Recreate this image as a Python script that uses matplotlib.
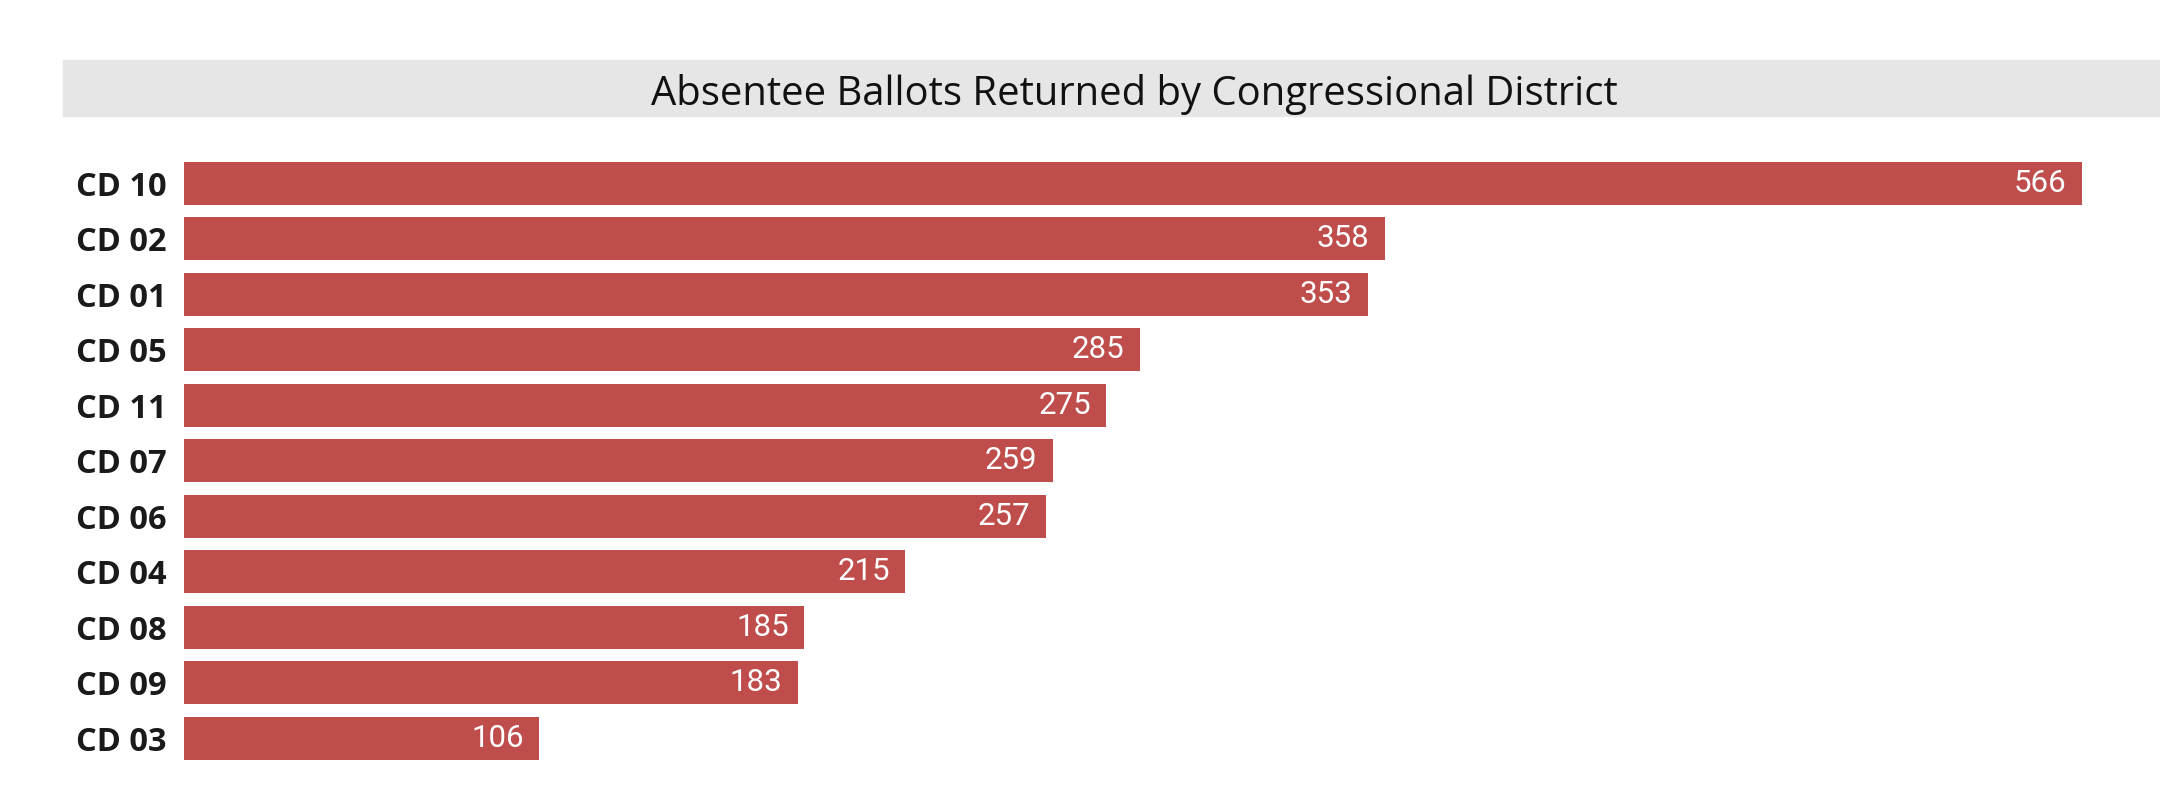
import matplotlib
matplotlib.use("Agg")
import matplotlib.pyplot as plt
from matplotlib.patches import Rectangle

# data, top to bottom as shown
districts = ["CD 10", "CD 02", "CD 01", "CD 05", "CD 11", "CD 07",
             "CD 06", "CD 04", "CD 08", "CD 09", "CD 03"]
ballots = [566, 358, 353, 285, 275, 259, 257, 215, 185, 183, 106]

title = "Absentee Ballots Returned by Congressional District"
bar_color = "#BE4D4B"
band_color = "#E6E6E6"

W, H = 2160, 798
fig = plt.figure(figsize=(W / 100, H / 100), dpi=100)

# grey title band across the top
fig.patches.append(Rectangle((63 / W, 1 - 116 / H), 1 - 63 / W, 56 / H,
                             transform=fig.transFigure, color=band_color,
                             zorder=0))
fig.text(1134 / W, 1 - 105 / H, title, ha="center", va="baseline",
         fontsize=28.8, family="Open Sans", color="#111111")

ax = fig.add_axes([184 / W, 1 - 766 / H, (2130 - 184) / W, 610.5 / H])
ax.barh(range(len(districts)), ballots, height=0.775, color=bar_color)
ax.set_xlim(0, 580.3)
ax.set_ylim(len(districts) - 0.5, -0.5)
ax.set_yticks(range(len(districts)))
ax.set_yticklabels(districts, fontsize=23.5, fontweight="bold",
                   family="Open Sans", color="#1a1a1a")
ax.tick_params(axis="y", length=0, pad=12.5)
ax.set_xticks([])
for s in ax.spines.values():
    s.set_visible(False)

for i, v in enumerate(ballots):
    ax.annotate(str(v), (v, i), xytext=(-11, 0), textcoords="offset points",
                ha="right", va="center", color="white", fontsize=22.5,
                family="Roboto")

fig.savefig("out.png", dpi=100)
